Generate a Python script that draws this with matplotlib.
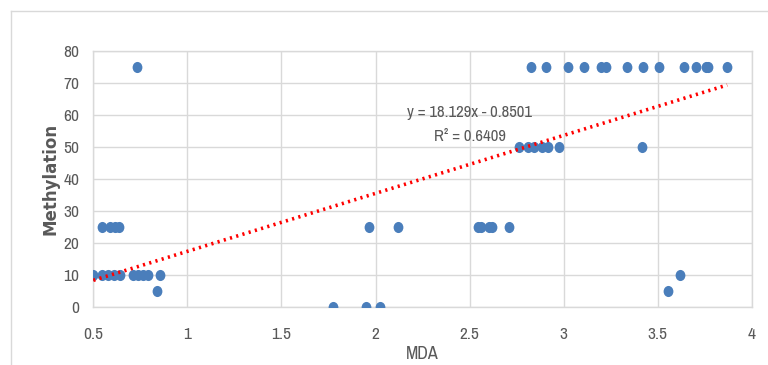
import numpy as np
import matplotlib.pyplot as plt
from matplotlib.lines import Line2D
from matplotlib.path import Path

plt.rcParams['font.family'] = ['Liberation Sans Narrow', 'Archivo Narrow', 'DejaVu Sans']

# MDA (x) vs Methylation (y)
mda = [0.50, 0.545, 0.58, 0.61, 0.64, 0.71, 0.74, 0.765, 0.79, 0.857,
       0.84,
       0.548, 0.59, 0.615, 0.635,
       0.73,
       1.773, 1.947, 2.025,
       1.964, 2.118, 2.543, 2.56, 2.605, 2.619, 2.707,
       2.764, 2.808, 2.843, 2.887, 2.914, 2.976, 3.415,
       2.826, 2.905, 3.025, 3.109, 3.197, 3.227, 3.338, 3.423, 3.506,
       3.639, 3.704, 3.757, 3.768, 3.869,
       3.556, 3.616]
methylation = [10, 10, 10, 10, 10, 10, 10, 10, 10, 10,
               5,
               25, 25, 25, 25,
               75,
               0, 0, 0,
               25, 25, 25, 25, 25, 25, 25,
               50, 50, 50, 50, 50, 50, 50,
               75, 75, 75, 75, 75, 75, 75, 75, 75,
               75, 75, 75, 75, 75,
               5, 10]

# Linear trendline as printed on the chart
slope, intercept = 18.129, -0.8501
r_squared = 0.6409

fig = plt.figure(figsize=(7.68, 3.65), dpi=100)
ax = fig.add_axes([0.1215, 0.16, 0.8575, 0.701])

grey = '#595959'
gridc = '#d9d9d9'

# slightly tall oval marker, like the stretched excel picture
circ = Path.unit_circle()
oval = Path(circ.vertices * [0.88, 1.0], circ.codes)
ax.scatter(mda, methylation, s=64, c='#4a7ebb', marker=oval, zorder=3, linewidths=0)

xs = np.array([min(mda), max(mda)])
ax.plot(xs, slope * xs + intercept, color='#ff0000', lw=2.6,
        linestyle=(0, (0.6, 1.2)), zorder=4, dash_capstyle='butt')

ax.text(2.5, 60.8, 'y = 18.129x - 0.8501', ha='center', va='center',
        fontsize=12, color=grey)
ax.text(2.5, 53.3, 'R² = {:.4f}'.format(r_squared), ha='center', va='center',
        fontsize=12, color=grey)

ax.set_xlim(0.5, 4)
ax.set_ylim(0, 80)
ax.set_xticks(np.arange(0.5, 4.01, 0.5))
ax.set_xticklabels(['0.5', '1', '1.5', '2', '2.5', '3', '3.5', '4'])
ax.set_yticks(np.arange(0, 81, 10))
ax.grid(True, color=gridc, lw=1)
ax.set_axisbelow(True)
for sp in ax.spines.values():
    sp.set_color(gridc)
    sp.set_linewidth(1)
ax.tick_params(length=0, labelsize=12.5, colors=grey)
ax.tick_params(axis='x', pad=15)
ax.tick_params(axis='y', pad=10)

ax.set_xlabel('MDA', fontsize=13, color=grey)
ax.xaxis.set_label_coords(0.5, -0.185)
ax.xaxis.label.set_va('center')
ax.set_ylabel('Methylation', fontsize=12, color=grey, fontweight='bold',
              family=['DejaVu Sans'])
ax.yaxis.set_label_coords(-0.0643, 0.5)
ax.yaxis.label.set_va('center')

# outer chart border (only top/left visible in the crop)
fig.add_artist(Line2D([11 / 768, 11 / 768], [0, 1 - 11 / 365], color=gridc, lw=1))
fig.add_artist(Line2D([11 / 768, 1], [1 - 11 / 365, 1 - 11 / 365], color=gridc, lw=1))

fig.savefig('out.png', dpi=100)
